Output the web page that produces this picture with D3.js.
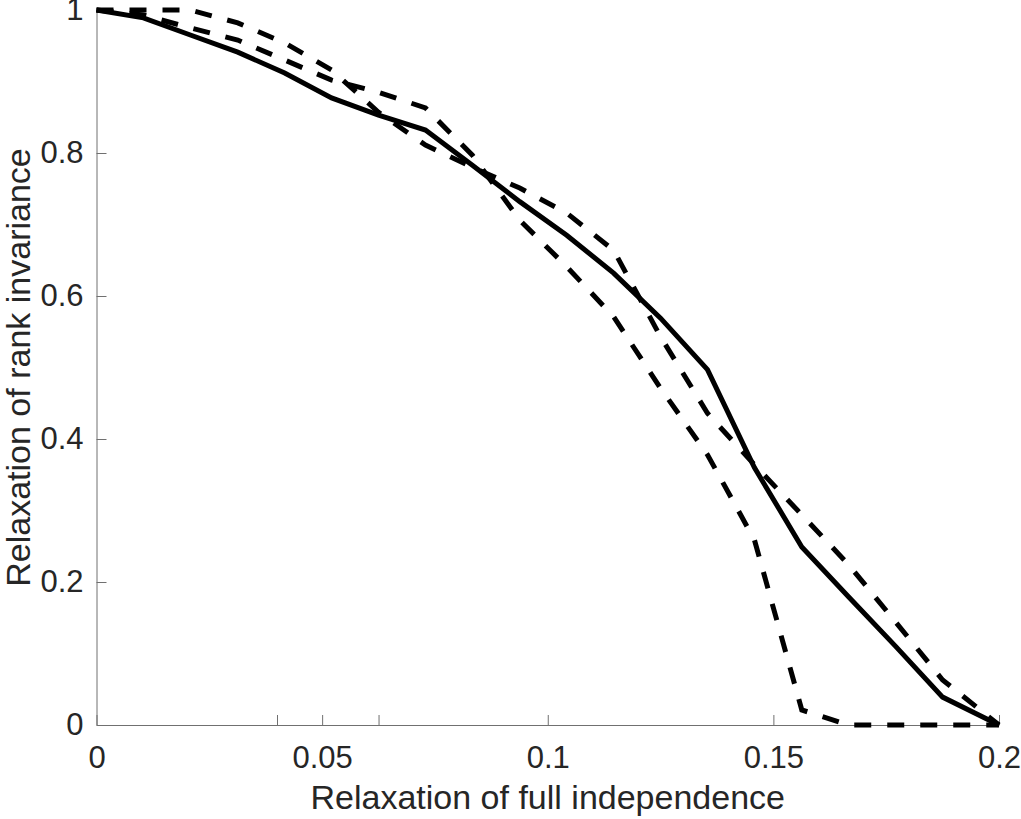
<!DOCTYPE html>
<html>
<head>
<meta charset="utf-8">
<script src="https://cdn.jsdelivr.net/npm/d3@7"></script>
<style>
  html, body { margin: 0; padding: 0; background: #fff; }
  svg { display: block; font-family: "Liberation Sans", Arial, sans-serif; }
</style>
</head>
<body>
<div id="chart"></div>
<script>
  // x: relaxation of full independence
  const relaxIndep = [0, 0.0104, 0.0208, 0.0313, 0.0417, 0.0521, 0.0625, 0.0729, 0.0833, 0.0938,
    0.1042, 0.1146, 0.125, 0.1354, 0.1458, 0.1563, 0.1667, 0.1771, 0.1875, 0.2];
  // y: relaxation of rank invariance, one array per curve
  const rankSolid = [1, 0.989, 0.965, 0.941, 0.912, 0.877, 0.853, 0.832, 0.783, 0.732,
    0.685, 0.632, 0.569, 0.497, 0.36, 0.249, 0.179, 0.11, 0.039, 0];
  const rankDashA = [1, 1, 1, 0.982, 0.954, 0.916, 0.857, 0.811, 0.78, 0.751,
    0.716, 0.664, 0.543, 0.436, 0.364, 0.294, 0.224, 0.144, 0.063, 0];
  const rankDashB = [1, 0.993, 0.975, 0.958, 0.93, 0.902, 0.885, 0.863, 0.797, 0.706,
    0.641, 0.571, 0.471, 0.378, 0.259, 0.021, 0, 0, 0, 0];

  const xTickValues = [0, 0.04, 0.05, 0.0625, 0.1, 0.15, 0.2];
  const xTickLabels = ["0", "", "0.05", "", "0.1", "0.15", "0.2"];
  const yTickValues = [0, 0.2, 0.4, 0.6, 0.8, 1];
  const yTickLabels = ["0", "0.2", "0.4", "0.6", "0.8", "1"];

  const width = 1021;
  const height = 819;
  const margin = { top: 10, right: 22, bottom: 94, left: 96.5 };
  const axisColor = "#707070";
  const textColor = "#262626";

  const svg = d3.select("#chart").append("svg")
    .attr("width", width)
    .attr("height", height);

  const x = d3.scaleLinear()
    .domain([0, 0.2])
    .range([margin.left, width - margin.right]);
  const y = d3.scaleLinear()
    .domain([0, 1])
    .range([height - margin.bottom, margin.top]);

  const xAxis = d3.axisBottom(x)
    .tickValues(xTickValues)
    .tickFormat((d, i) => xTickLabels[i])
    .tickSizeInner(-10)
    .tickSizeOuter(0)
    .tickPadding(21);
  const yAxis = d3.axisLeft(y)
    .tickValues(yTickValues)
    .tickFormat((d, i) => yTickLabels[i])
    .tickSizeInner(-10)
    .tickSizeOuter(0)
    .tickPadding(13);

  const styleAxis = (g) => {
    g.selectAll("path,line").attr("stroke", axisColor).attr("stroke-width", 1);
    g.selectAll("text")
      .attr("fill", textColor)
      .attr("font-size", 31)
      .attr("font-family", "Liberation Sans, Arial, sans-serif");
  };

  svg.append("g")
    .attr("transform", `translate(0,${y(0)})`)
    .call(xAxis)
    .call(styleAxis);

  svg.append("g")
    .attr("transform", `translate(${x(0)},0)`)
    .call(yAxis)
    .call(styleAxis);

  // curves
  const series = [
    { values: rankDashB, dash: "17 16" },
    { values: rankDashA, dash: "17 16" },
    { values: rankSolid, dash: null },
  ];
  const line = d3.line()
    .x((d, i) => x(relaxIndep[i]))
    .y((d) => y(d));

  svg.append("g")
    .selectAll("path")
    .data(series)
    .join("path")
    .attr("d", (d) => line(d.values))
    .attr("fill", "none")
    .attr("stroke", "#000")
    .attr("stroke-width", 5)
    .attr("stroke-linejoin", "miter")
    .attr("stroke-dasharray", (d) => d.dash);

  // axis titles
  svg.append("text")
    .attr("x", (x(0) + x(0.2)) / 2)
    .attr("y", 809)
    .attr("text-anchor", "middle")
    .attr("fill", textColor)
    .attr("font-size", 34)
    .text("Relaxation of full independence");

  svg.append("text")
    .attr("transform", `translate(30, ${(y(0) + y(1)) / 2}) rotate(-90)`)
    .attr("text-anchor", "middle")
    .attr("fill", textColor)
    .attr("font-size", 34)
    .text("Relaxation of rank invariance");
</script>
</body>
</html>
